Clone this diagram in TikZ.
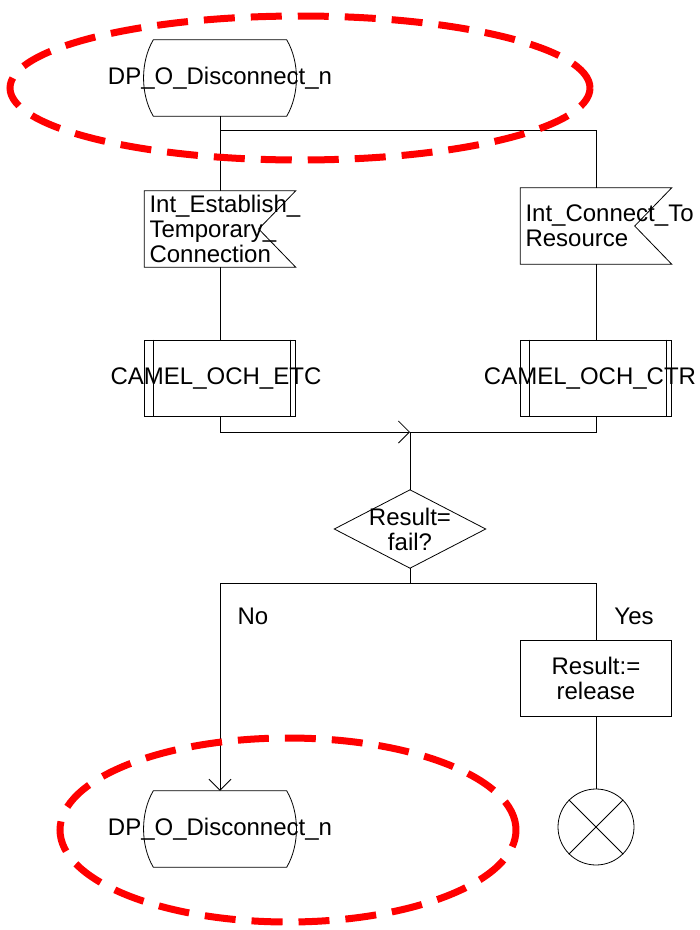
\documentclass[tikz,border=0pt]{standalone}
\usepackage{fontspec}
\setmainfont{Liberation Sans}
\usetikzlibrary{arrows.meta}

\tikzset{
  sdlbox/.style={minimum width=151pt, minimum height=76pt, inner sep=0pt,
    font=\fontsize{24}{25}\selectfont},
  statebox/.style={sdlbox},
  sigbox/.style={sdlbox, align=left, text width=141pt},
  procbox/.style={sdlbox, draw, line width=0.8pt},
  taskbox/.style={sdlbox, draw, line width=0.8pt, align=center},
  decbox/.style={sdlbox, minimum height=78pt, align=center},
  stopbox/.style={circle, draw, line width=0.8pt, minimum size=76pt, inner sep=0pt},
  lbl/.style={font=\fontsize{24}{25}\selectfont},
  flow/.style={line width=0.8pt},
  merge/.style={-{Straight Barb[length=11pt,width=22pt,line width=0.8pt]}},
  redmark/.style={red, line width=7pt, dash pattern=on 31pt off 16pt},
}

\begin{document}
\begin{tikzpicture}[x=1pt,y=-1pt]
		\useasboundingbox (0,0) rectangle (700,930);
		%states
		\node[statebox] (dpTop) at (220,78) {\makebox[0pt]{DP\_O\_Disconnect\_n}};
		\node[statebox] (dpBot) at (220,829) {\makebox[0pt]{DP\_O\_Disconnect\_n}};
		\foreach \nn in {dpTop,dpBot}{
			\draw[flow] ([xshift=9pt]\nn.north west) -- ([xshift=-9pt]\nn.north east)
				.. controls ([xshift=4pt,yshift=-22pt]\nn.north east) and ([xshift=4pt,yshift=22pt]\nn.south east) .. ([xshift=-9pt]\nn.south east)
				-- ([xshift=9pt]\nn.south west)
				.. controls ([xshift=-4pt,yshift=22pt]\nn.south west) and ([xshift=-4pt,yshift=-22pt]\nn.north west) .. cycle;
		}
		%signals
		\node[sigbox] (sigL) at (220,229) {Int\_Establish\_\\Temporary\_\\Connection};
		\node[sigbox] (sigR) at (596,226) {Int\_Connect\_To\\Resource};
		\foreach \nn in {sigL,sigR}{
			\draw[flow] (\nn.north west) -- (\nn.north east) -- ([xshift=-37pt]\nn.east)
				-- (\nn.south east) -- (\nn.south west) -- cycle;
		}
		%procedure calls
		\node[procbox] (procL) at (220,378) {\makebox[0pt]{\hspace*{-8pt}CAMEL\_OCH\_ETC}};
		\node[procbox] (procR) at (596,378) {\makebox[0pt]{\hspace*{-12pt}CAMEL\_OCH\_CTR}};
		\foreach \nn in {procL,procR}{
			\draw[flow] ([xshift=9pt]\nn.north west) -- ([xshift=9pt]\nn.south west);
			\draw[flow] ([xshift=-6pt]\nn.north east) -- ([xshift=-6pt]\nn.south east);
		}
		%decision
		\node[decbox] (dec) at (410,529) {Result=\\fail?};
		\draw[flow] (dec.north) -- (dec.east) -- (dec.south) -- (dec.west) -- cycle;
		%task and stop
		\node[taskbox] (task) at (596,678) {Result:=\\release};
		\node[stopbox] (stop) at (596,827) {};
		\draw[flow] (stop.135) -- (stop.-45);
		\draw[flow] (stop.45) -- (stop.-135);
		%connectors
		\coordinate (fork) at (220,130);
		\coordinate (join) at (410,432);
		\coordinate (branch) at (410,583);
		\draw[flow] (dpTop.south) -- (sigL.north);
		\draw[flow] (fork) -| (sigR.north);
		\draw[flow] (sigL.south) -- (procL.north);
		\draw[flow] (sigR.south) -- (procR.north);
		\draw[flow,merge] (procL.south) |- (join);
		\draw[flow] (procR.south) |- (join) -- (dec.north);
		\draw[flow] (dec.south) -- (branch);
		\draw[flow,merge] (branch) -| (dpBot.north);
		\draw[flow] (branch) -| (task.north);
		\draw[flow] (task.south) -- (stop.north);
		\node[lbl] (no) at (253,616) {No};
		\node[lbl] (yes) at (634,616) {Yes};
		%red marks
		\draw[redmark] (300,88) ellipse [x radius=290pt, y radius=72pt];
		\draw[redmark] (288,830) ellipse [x radius=228pt, y radius=92pt];
\end{tikzpicture}
\end{document}
